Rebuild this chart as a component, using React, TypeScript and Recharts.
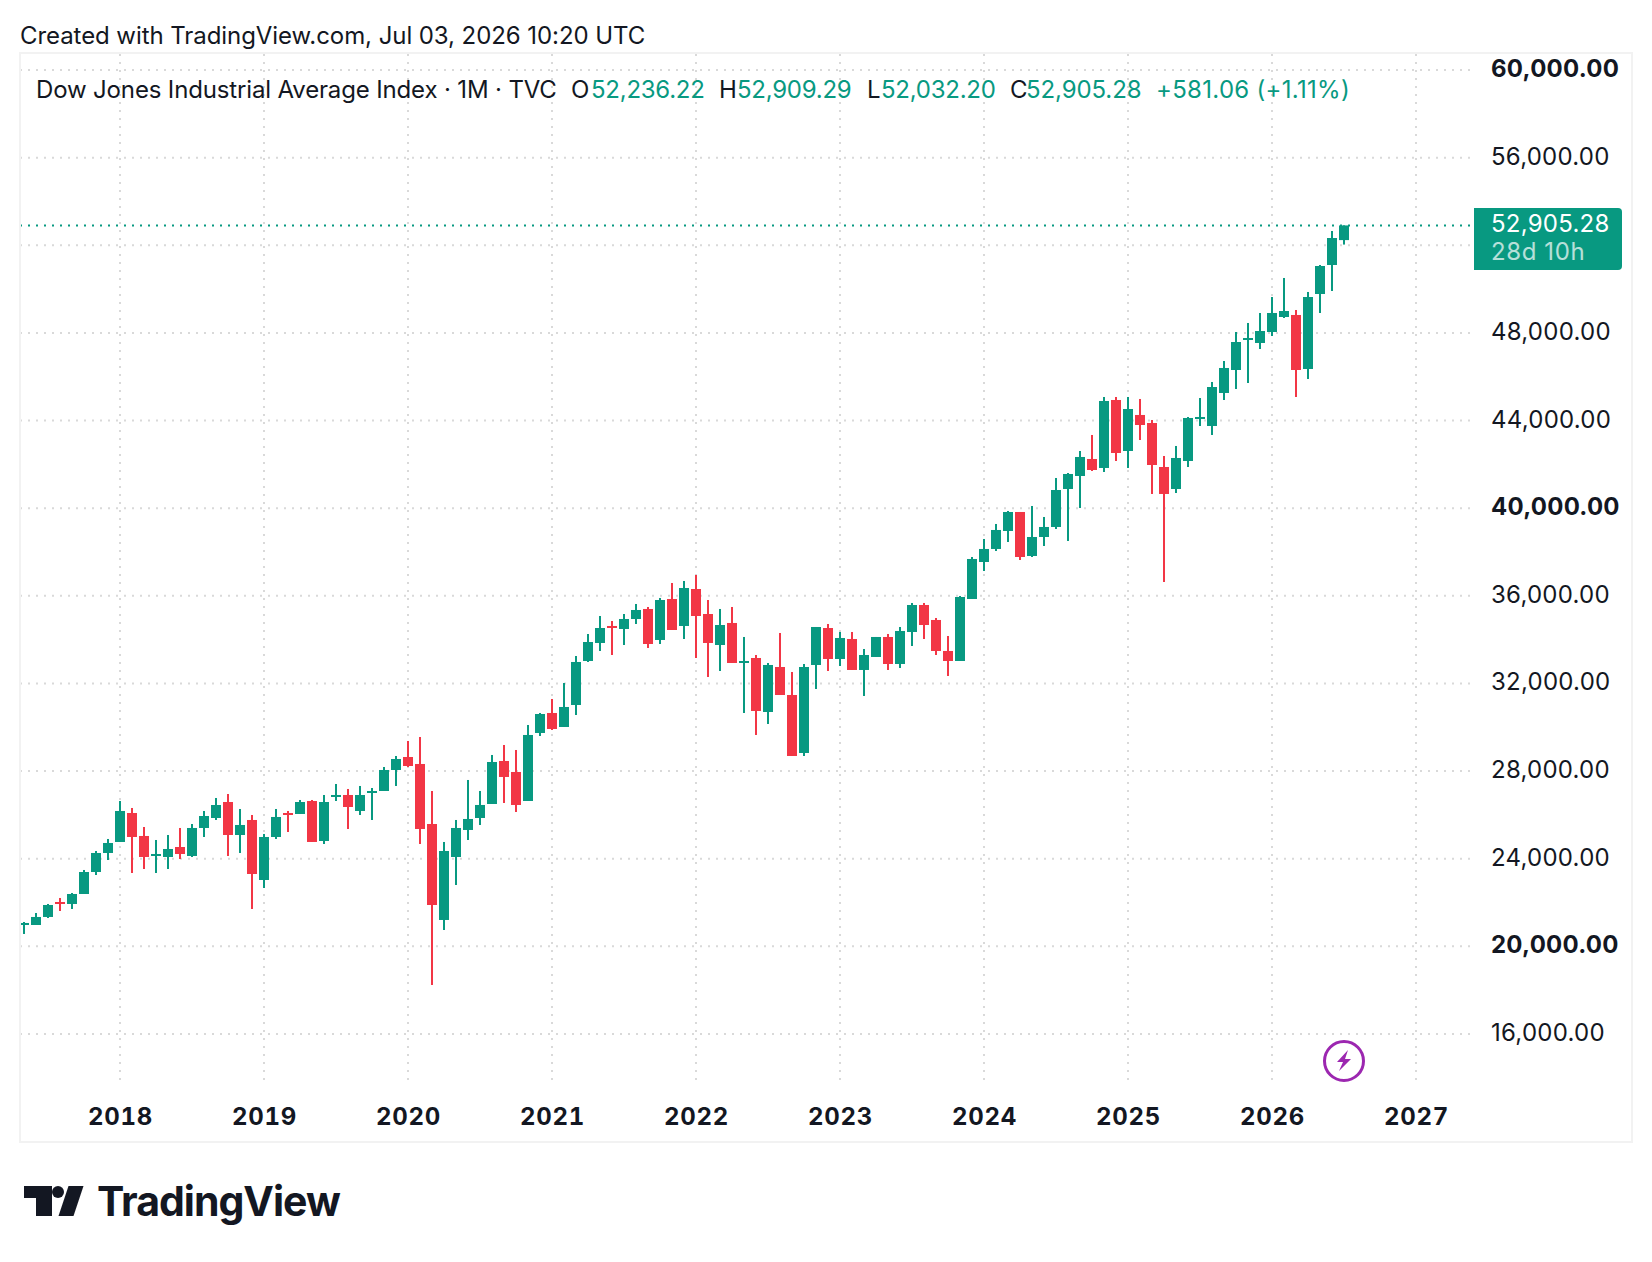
import { Bar, CartesianGrid, ComposedChart, ReferenceLine, XAxis, YAxis } from "recharts";

const UP = "#089981";
const DOWN = "#F23645";
const INK = "#131722";
const FONT = "Inter, sans-serif";

// monthly bars, May 2017 to Jul 2026
const opens = [
  20975, 20975, 21341, 22025, 21934, 22390, 23394, 24262,
  24764, 26087, 25038, 24125, 24079, 24535, 24125, 25403, 25859, 26589, 25083, 25768,
  23029, 24992, 26087, 26042, 26635, 24809, 26818, 26909, 26179, 27000, 27091, 28050,
  28643, 28324, 25585, 21204, 24079, 25312, 25859, 26498, 28461, 27959, 26635, 29739,
  30652, 30013, 31017, 33025, 33847, 34623, 34486, 34942, 35399, 33984, 35855, 34623,
  36311, 35170, 33755, 34760, 32934, 33162, 30697, 32751, 31473, 28826, 32843, 34531,
  33116, 34029, 32615, 33208, 34121, 32888, 34349, 35581, 34897, 33482, 33025, 35855,
  37544, 38138, 38959, 39826, 37818, 38685, 39142, 40876, 41469, 42245, 41835, 44938,
  42610, 44254, 43888, 41880, 40876, 42154, 44071, 43751, 45258, 46307, 47677, 47540,
  48042, 48726, 48818, 46353, 49776, 51100, 52236.22,
];
const highs = [
  21112, 21523, 21934, 22208, 22436, 23486, 24353, 24901,
  26635, 26316, 25448, 24855, 25083, 25403, 25585, 26179, 26772, 26954, 26270, 25996,
  25129, 26270, 26179, 26681, 26681, 26909, 27411, 27183, 27320, 27228, 28187, 28689,
  29374, 29556, 27091, 24764, 25768, 27594, 27092, 28735, 29191, 28963, 30104, 30652,
  31291, 32021, 33253, 34257, 35079, 34851, 35170, 35627, 35490, 35901, 36585, 36677,
  36950, 35809, 35399, 35490, 34121, 33299, 32934, 34303, 32523, 32888, 34577, 34714,
  34349, 34349, 33573, 34121, 34258, 34577, 35673, 35673, 34988, 34166, 35992, 37772,
  38594, 39279, 39872, 39826, 40100, 39598, 41378, 41606, 42610, 43341, 45075, 45075,
  45075, 44984, 44025, 42382, 42839, 44162, 45029, 45760, 46718, 48042, 48453, 48909,
  49639, 50507, 49046, 49868, 51100, 52652, 52909.29,
];
const lows = [
  20565, 20975, 21295, 21614, 21706, 22390, 23257, 23942,
  24764, 23349, 23531, 23349, 23531, 23988, 24079, 24992, 25768, 24125, 24262, 21706,
  22664, 24901, 25220, 26042, 24764, 24672, 26635, 25357, 25996, 25768, 27091, 27320,
  28187, 24672, 18237, 20747, 22801, 24855, 25540, 26498, 26544, 26133, 26635, 29602,
  29876, 30013, 30560, 32980, 33482, 33299, 33755, 34714, 33619, 33801, 34440, 34029,
  33162, 32295, 32569, 32934, 30652, 29648, 30150, 31473, 28689, 28689, 31747, 32569,
  32797, 32615, 31428, 33208, 32615, 32706, 33710, 34029, 33299, 32341, 33025, 35855,
  37133, 38046, 38457, 37635, 37772, 38274, 39050, 38503, 40009, 41698, 41652, 42154,
  41835, 43112, 40648, 36631, 40693, 41880, 43751, 43341, 44938, 45440, 45714, 47266,
  47859, 48681, 45075, 45897, 48909, 49913, 52032.2,
];
const closes = [
  21067, 21341, 21888, 21934, 22390, 23394, 24262, 24718,
  26179, 24992, 24079, 24216, 24444, 24216, 25403, 25950, 26452, 25083, 25540, 23303,
  24992, 25905, 25996, 26589, 24764, 26589, 26909, 26361, 26909, 27091, 28050, 28552,
  28232, 25357, 21888, 24353, 25403, 25814, 26453, 28415, 27731, 26453, 29648, 30606,
  29922, 30926, 32980, 33892, 34531, 34531, 34942, 35353, 33801, 35809, 34440, 36357,
  35079, 33847, 34668, 32934, 33025, 30743, 32843, 31473, 28689, 32751, 34577, 33116,
  34075, 32615, 33299, 34121, 32888, 34395, 35581, 34668, 33482, 33025, 35946, 37681,
  38138, 39005, 39826, 37772, 38685, 39142, 40830, 41561, 42337, 41743, 44893, 42519,
  44527, 43797, 41971, 40648, 42291, 44117, 44162, 45531, 46399, 47585, 47768, 48087,
  48909, 49000, 46307, 49639, 51054, 52332, 52905.28,
];

const priceTicks = [16000, 20000, 24000, 28000, 32000, 36000, 40000, 44000, 48000, 52000, 56000, 60000];
const strongTicks = [20000, 40000, 60000];
const coveredTicks = [52000]; // label sits under the price badge
const yearTicks = ["2018-01", "2019-01", "2020-01", "2021-01", "2022-01", "2023-01", "2024-01", "2025-01", "2026-01", "2027-01"];
const lastPrice = 52905.28;

// axis runs past the last bar into 2027
const months: string[] = [];
for (let i = 0; i < 121; i++) {
  const n = 2017 * 12 + 4 + i;
  months.push(`${Math.floor(n / 12)}-${String((n % 12) + 1).padStart(2, "0")}`);
}

const data = months.map((month, i) => ({
  month,
  open: opens[i],
  high: highs[i],
  low: lows[i],
  close: closes[i],
  range: opens[i] === undefined ? null : [lows[i], highs[i]],
}));

function Candle(props: any) {
  const { x, y, width, height, payload } = props;
  if (!payload || payload.open === undefined) return null;
  const { open, high, low, close } = payload;
  const color = close >= open ? UP : DOWN;
  const perUnit = height / (high - low);
  const top = y + (high - Math.max(open, close)) * perUnit;
  const body = Math.max(Math.abs(open - close) * perUnit, 2);
  return (
    <g>
      <rect x={x + width / 2 - 1} y={y} width={2} height={height} fill={color} />
      <rect x={x} y={top} width={width} height={body} fill={color} />
    </g>
  );
}

function PriceTick(props: any) {
  const { y, payload } = props;
  if (coveredTicks.includes(payload.value)) return null;
  const label = payload.value.toLocaleString("en-US", { minimumFractionDigits: 2 });
  return (
    <text
      x={1491}
      y={y + 7}
      fontFamily={FONT}
      fontSize={24}
      fontWeight={strongTicks.includes(payload.value) ? 700 : 400}
      letterSpacing={0.25}
      fill={INK}
    >
      {label}
    </text>
  );
}

function YearTick(props: any) {
  const { x, payload } = props;
  return (
    <text
      x={x + 0.5}
      y={1125}
      textAnchor="middle"
      fontFamily={FONT}
      fontSize={24}
      fontWeight={700}
      letterSpacing={0.7}
      style={{ fontVariantNumeric: "tabular-nums" }}
      fill={INK}
    >
      {payload.value.slice(0, 4)}
    </text>
  );
}

const legendItems = [
  { left: 571, text: "O", color: INK, spacing: 0 },
  { left: 591, text: "52,236.22", color: UP, spacing: -0.25 },
  { left: 719, text: "H", color: INK, spacing: 0 },
  { left: 737, text: "52,909.29", color: UP, spacing: -0.25 },
  { left: 867, text: "L", color: INK, spacing: 0 },
  { left: 881, text: "52,032.20", color: UP, spacing: -0.25 },
  { left: 1010, text: "C", color: INK, spacing: 0 },
  { left: 1026, text: "52,905.28", color: UP, spacing: -0.1 },
  { left: 1156, text: "+581.06 (+1.11%)", color: UP, spacing: 0.3 },
];

function Header() {
  const base = { position: "absolute", whiteSpace: "pre", fontFamily: FONT, fontSize: 24, color: INK, lineHeight: "30px" } as const;
  return (
    <>
      <div style={{ ...base, left: 20, top: 21, letterSpacing: -0.07 }}>Created with TradingView.com, Jul 03, 2026 10:20 UTC</div>
      <div style={{ ...base, left: 36, top: 75, letterSpacing: -0.15 }}>Dow Jones Industrial Average Index · 1M · TVC</div>
      {legendItems.map((item) => (
        <div key={item.left} style={{ ...base, left: item.left, top: 75, color: item.color, letterSpacing: item.spacing }}>
          {item.text}
        </div>
      ))}
    </>
  );
}

function PriceBadge() {
  return (
    <div
      style={{
        position: "absolute",
        left: 1474,
        top: 208,
        width: 148,
        height: 62,
        background: UP,
        borderRadius: "0 4px 4px 0",
        fontFamily: FONT,
        fontSize: 24,
        letterSpacing: 0.25,
        lineHeight: "28px",
        color: "#fff",
      }}
    >
      <div style={{ position: "absolute", left: 17, top: 2 }}>52,905.28</div>
      <div style={{ position: "absolute", left: 17, top: 30, opacity: 0.7, letterSpacing: 0.6 }}>28d 10h</div>
    </div>
  );
}

function Logo() {
  return (
    <>
      <svg style={{ position: "absolute", left: 0, top: 1170 }} width={100} height={60} viewBox="0 0 100 60">
        <path d="M24 16H52V46H36V28H24Z" fill={INK} />
        <path d="M68.5 16H83.5L73.5 46H58.5Z" fill={INK} />
        <circle cx={58} cy={22} r={6} fill={INK} />
      </svg>
      <div
        style={{
          position: "absolute",
          left: 97,
          top: 1176,
          fontFamily: FONT,
          fontSize: 41,
          fontWeight: 700,
          letterSpacing: -1.0,
          lineHeight: "50px",
          color: INK,
        }}
      >
        TradingView
      </div>
    </>
  );
}

function Bolt() {
  return (
    <svg style={{ position: "absolute", left: 1322, top: 1039 }} width={44} height={44} viewBox="0 0 44 44">
      <circle cx={22} cy={22} r={19.5} fill="#fff" stroke="#9C27B0" strokeWidth={3} />
      <path d="M26 11 L15 23 L21 23 L17 32 L29 20 L23 20 Z" fill="#9C27B0" />
    </svg>
  );
}

export default function App() {
  return (
    <div style={{ position: "absolute", left: 0, top: 0, width: 1652, height: 1262, background: "#fff", overflow: "hidden" }}>
      <ComposedChart width={1652} height={1262} data={data} margin={{ top: 53, right: 0, bottom: 120, left: 18 }} barCategoryGap={1}>
        <CartesianGrid syncWithTicks horizontal vertical={false} stroke="#d9d9d9" strokeWidth={2} strokeDasharray="2 6" strokeDashoffset={6} />
        <CartesianGrid syncWithTicks horizontal={false} vertical stroke="#d9d9d9" strokeWidth={2} strokeDasharray="2 6" strokeDashoffset={7} />
        <XAxis dataKey="month" ticks={yearTicks} interval={0} height={62} axisLine={false} tickLine={false} tick={<YearTick />} />
        <YAxis
          orientation="right"
          type="number"
          domain={[13900, 60776]}
          ticks={priceTicks}
          width={182}
          axisLine={false}
          tickLine={false}
          tick={<PriceTick />}
        />
        <ReferenceLine y={lastPrice} stroke={UP} strokeWidth={2} strokeDasharray="2 6" />
        <Bar dataKey="range" barSize={10} shape={<Candle />} isAnimationActive={false} />
      </ComposedChart>
      <div style={{ position: "absolute", left: 0, top: 0, width: 19, height: 1262, background: "#fff" }} />
      <div style={{ position: "absolute", left: 19, top: 52, width: 1610, height: 1087, border: "2px solid #f2f2f2" }} />
      <Header />
      <PriceBadge />
      <Bolt />
      <Logo />
    </div>
  );
}
